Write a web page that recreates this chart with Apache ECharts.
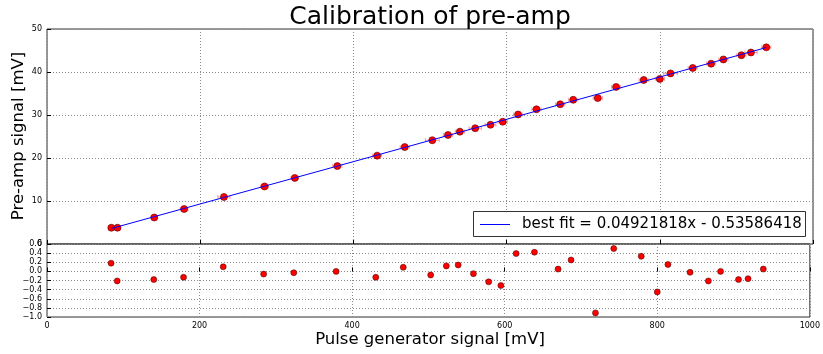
<!DOCTYPE html>
<html>
<head>
<meta charset="utf-8">
<script src="https://cdn.jsdelivr.net/npm/echarts@6/dist/echarts.min.js"></script>
<style>html,body{margin:0;padding:0;background:#fff}#c{width:823px;height:354px}</style>
</head>
<body>
<div id="c"></div>
<script>
// Data
const pulseX = [84, 92, 140, 179, 231, 284, 323.5, 379, 431, 467, 503, 523.5, 539, 559, 579, 595, 615, 639, 670, 687, 719, 743, 779, 800, 814, 843, 867, 883, 906.5, 919, 939];
const preampY = [3.78, 3.78, 6.17, 8.14, 10.93, 13.38, 15.36, 18.12, 20.55, 22.54, 24.14, 25.35, 26.13, 26.93, 27.73, 28.44, 30.12, 31.33, 32.49, 33.53, 33.94, 36.53, 38.14, 38.39, 39.68, 40.94, 41.93, 42.92, 43.90, 44.54, 45.73];
const residuals = [0.18, -0.21, -0.18, -0.13, 0.10, -0.06, -0.03, 0.0, -0.13, 0.09, -0.08, 0.12, 0.14, -0.05, -0.23, -0.31, 0.39, 0.42, 0.05, 0.25, -0.91, 0.50, 0.33, -0.45, 0.15, -0.02, -0.21, 0.0, -0.18, -0.16, 0.05];
const xErr = [4, 4, 4, 5, 8, 5, 5, 6, 6, 6, 9, 6, 6, 8, 7, 6, 6, 6, 6, 6, 6, 6, 6, 6, 9, 6, 6, 6, 6, 8, 6];
const fitX = [84, 939];
const fitY = [3.598, 45.680];
const fitLabel = 'best fit = 0.04921818x - 0.53586418';
const titleText = 'Calibration of pre-amp';
const xLabel = 'Pulse generator signal [mV]';
const yLabel = 'Pre-amp signal [mV]';

const font = 'DejaVu Sans';
const chart = echarts.init(document.getElementById('c'));
const fmtMinus = v => (v < 0 ? '\u2212' + Math.abs(v).toFixed(1) : v.toFixed(1));

const splitLine = {show: true, lineStyle: {color: '#8a8a8a', type: [1, 2], width: 1}};
const tick = {show: true, inside: true, length: 4, lineStyle: {color: '#000'}};

chart.setOption({
  animation: false,
  backgroundColor: '#fff',
  grid: [
    {left: 47, top: 29, width: 766, height: 215, show: true, borderColor: '#333', borderWidth: 1, backgroundColor: 'transparent'},
    {left: 47, top: 244, width: 766, height: 73, show: true, borderColor: '#333', borderWidth: 1, backgroundColor: 'transparent'}
  ],
  xAxis: [
    {gridIndex: 0, type: 'value', min: 0, max: 1000, interval: 200, axisLine: {show: false}, axisTick: tick, axisLabel: {show: false}, splitLine: splitLine},
    {gridIndex: 1, type: 'value', min: 0, max: 1000, interval: 200, axisLine: {show: false}, axisTick: tick,
      axisLabel: {show: true, fontFamily: font, fontSize: 8, color: '#000', margin: 5, formatter: v => String(v)}, splitLine: splitLine}
  ],
  yAxis: [
    {gridIndex: 0, type: 'value', min: 0, max: 50, interval: 10, axisLine: {show: false}, axisTick: tick,
      axisLabel: {show: true, fontFamily: font, fontSize: 8, color: '#000', margin: 5}, splitLine: splitLine},
    {gridIndex: 1, type: 'value', min: -1.0, max: 0.6, interval: 0.2, axisLine: {show: false}, axisTick: tick,
      axisLabel: {show: true, fontFamily: font, fontSize: 8, color: '#000', margin: 5, formatter: fmtMinus}, splitLine: splitLine}
  ],
  graphic: [
    {type: 'text', x: 430, y: 17, style: {text: titleText, font: '25px "DejaVu Sans"', fill: '#000', textAlign: 'center', textVerticalAlign: 'middle'}},
    {type: 'text', x: 430, y: 340, style: {text: xLabel, font: '16.5px "DejaVu Sans"', fill: '#000', textAlign: 'center', textVerticalAlign: 'middle'}},
    {type: 'text', x: 19, y: 136, rotation: Math.PI / 2, style: {text: yLabel, font: '16.5px "DejaVu Sans"', fill: '#000', textAlign: 'center', textVerticalAlign: 'middle'}},
    {type: 'group', z: 100, children: [
      {type: 'rect', shape: {x: 473.5, y: 211.5, width: 332, height: 25}, style: {fill: '#fff', stroke: '#333', lineWidth: 1}, z: 100},
      {type: 'line', shape: {x1: 480, y1: 224.5, x2: 510, y2: 224.5}, style: {stroke: '#0000ff', lineWidth: 1}, z: 101},
      {type: 'text', x: 522, y: 224.5, style: {text: fitLabel, font: '15px "DejaVu Sans"', fill: '#000', textAlign: 'left', textVerticalAlign: 'middle'}, z: 101}
    ]}
  ],
  series: [
    {
      type: 'custom', xAxisIndex: 0, yAxisIndex: 0, silent: true, z: 2,
      data: pulseX.map((x, i) => [x, preampY[i], xErr[i]]),
      renderItem: (params, api) => {
        const x = api.value(0), y = api.value(1), e = api.value(2);
        const p1 = api.coord([x - e, y]);
        const p2 = api.coord([x + e, y]);
        const st = {stroke: 'rgba(255,80,80,0.55)', lineWidth: 1};
        return {type: 'group', children: [
          {type: 'line', shape: {x1: p1[0], y1: p1[1], x2: p2[0], y2: p2[1]}, style: st},
          {type: 'line', shape: {x1: p1[0], y1: p1[1] - 2, x2: p1[0], y2: p1[1] + 2}, style: st},
          {type: 'line', shape: {x1: p2[0], y1: p2[1] - 2, x2: p2[0], y2: p2[1] + 2}, style: st}
        ]};
      }
    },
    {
      type: 'scatter', name: 'data', xAxisIndex: 0, yAxisIndex: 0, z: 3,
      data: pulseX.map((x, i) => [x, preampY[i]]),
      symbol: 'circle', symbolSize: 7,
      itemStyle: {color: '#ff0000', borderColor: '#550000', borderWidth: 0.6, opacity: 1}
    },
    {
      type: 'line', name: fitLabel, xAxisIndex: 0, yAxisIndex: 0, z: 4,
      data: fitX.map((x, i) => [x, fitY[i]]),
      symbol: 'none', lineStyle: {color: '#0000ff', width: 1},
      itemStyle: {color: '#0000ff'}
    },
    {
      type: 'scatter', name: 'residuals', xAxisIndex: 1, yAxisIndex: 1, z: 3,
      data: pulseX.map((x, i) => [x, residuals[i]]),
      symbol: 'circle', symbolSize: 6,
      itemStyle: {color: '#ff0000', borderColor: '#330000', borderWidth: 0.5, opacity: 1}
    }
  ]
});
</script>
</body>
</html>
